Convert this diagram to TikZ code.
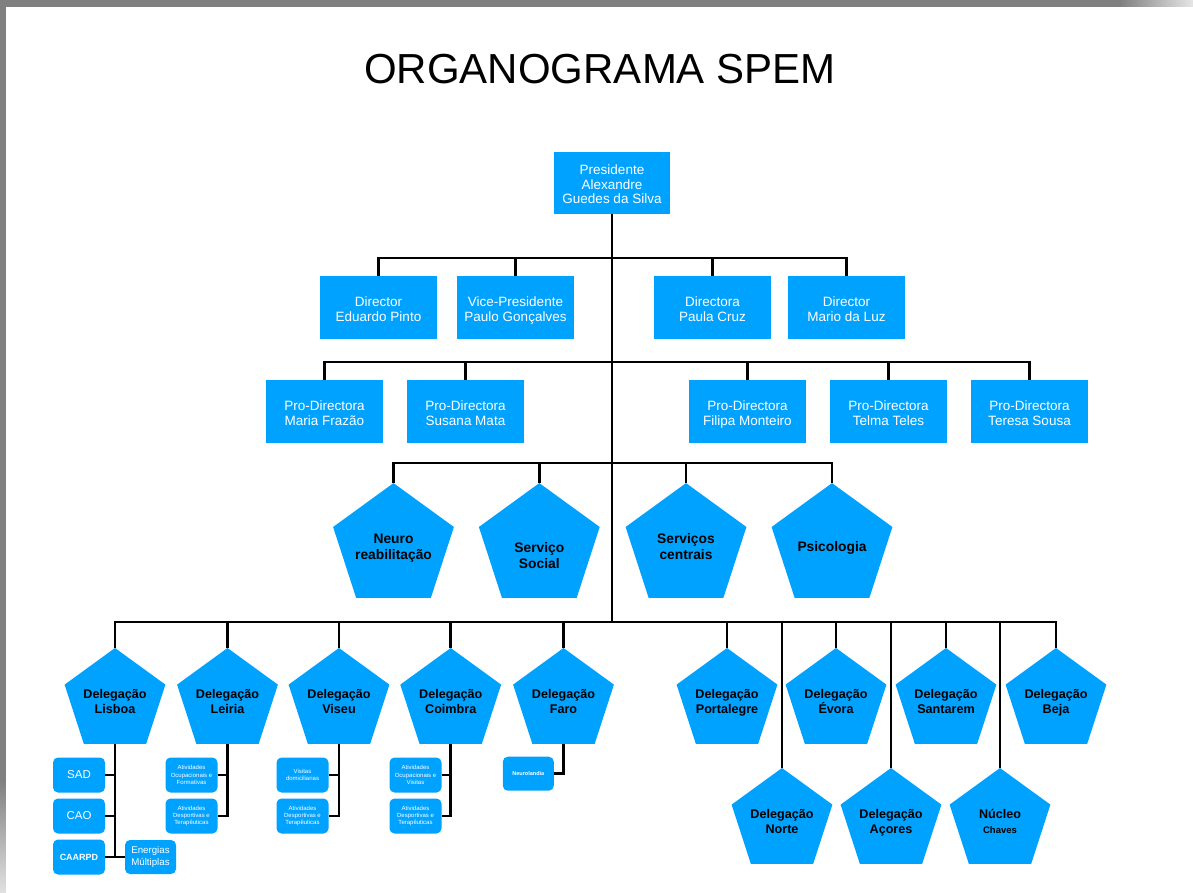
\documentclass[tikz,border=0pt]{standalone}
\usepackage{fontspec}
\setmainfont{Liberation Sans}
\usetikzlibrary{shapes.geometric}
\definecolor{spemblue}{RGB}{0,162,255}
\newcommand{\pl}[1]{\makebox[0pt]{#1}}

\begin{document}
\begin{tikzpicture}
[
    x=1pt, y=-1pt,
    line width=2.6pt,
    every node/.style={inner sep=0pt, outer sep=0pt, align=center},
    box/.style={fill=spemblue, text=white, minimum width=117pt, minimum height=63pt, text height=28.7pt, text depth=0pt, font=\fontsize{13.5}{15}\selectfont},
    pent/.style={regular polygon, regular polygon sides=5, fill=spemblue, minimum size=127pt, text depth=0pt, font=\bfseries\fontsize{13.8}{16.5}\selectfont},
    deleg/.style={pent, minimum size=106pt, font=\bfseries\fontsize{12.6}{15}\selectfont},
    sub/.style={fill=spemblue, text=white, rounded corners=5pt, minimum width=52pt, minimum height=35pt},
    tiny/.style={sub, font=\fontsize{6}{7.3}\selectfont},
]
\useasboundingbox (0,0) rectangle (1193,892);
\fill[black!50] (0,0) rectangle (1120,7);
\shade[left color=black!50, right color=black!10] (1120,0) rectangle (1193,7);
\fill[black!50] (0,0) rectangle (6,780);
\shade[top color=black!50, bottom color=black!12] (0,780) rectangle (6,892);
\fill[white] (6,7) rectangle (1193,892);

\node (title) at (600,69) {\fontsize{42}{50}\selectfont ORGANOGRAMA SPEM};

\node[box, minimum width=116pt, minimum height=62pt, text height=41.3pt, font=\fontsize{13.5}{14.5}\selectfont] (pres) at (612,183) {Presidente\\Alexandre\\Guedes da Silva};

\node[box] (dirEP) at (378.5,307.5) {Director\\Eduardo Pinto};
\node[box] (vpPG) at (515.5,307.5) {Vice-Presidente\\Paulo Gonçalves};
\node[box] (dirPC) at (712.5,307.5) {Directora\\Paula Cruz};
\node[box] (dirML) at (846.5,307.5) {Director\\Mario da Luz};

\node[box] (pdMF) at (324.5,411.5) {Pro-Directora\\Maria Frazão};
\node[box] (pdSM) at (465.5,411.5) {Pro-Directora\\Susana Mata};
\node[box] (pdFM) at (747.5,411.5) {Pro-Directora\\Filipa Monteiro};
\node[box] (pdTT) at (888.5,411.5) {Pro-Directora\\Telma Teles};
\node[box] (pdTS) at (1029.5,411.5) {Pro-Directora\\Teresa Sousa};

\node[pent] (neuro) at (393.5,546.6) {\pl{Neuro}\\\pl{reabilitação}};
\node[pent, text height=44.5pt] (social) at (539.3,546.6) {\pl{Serviço}\\\pl{Social}};
\node[pent] (centrais) at (686,546.6) {\pl{Serviços}\\\pl{centrais}};
\node[pent] (psico) at (832,546.6) {\pl{Psicologia}};

\node[deleg] (lisboa) at (115,701) {\pl{Delegação}\\\pl{Lisboa}};
\node[deleg] (leiria) at (227.5,701) {\pl{Delegação}\\\pl{Leiria}};
\node[deleg] (viseu) at (339,701) {\pl{Delegação}\\\pl{Viseu}};
\node[deleg] (coimbra) at (450.7,701) {\pl{Delegação}\\\pl{Coimbra}};
\node[deleg] (faro) at (563.5,701) {\pl{Delegação}\\\pl{Faro}};
\node[deleg] (portalegre) at (727,701) {\pl{Delegação}\\\pl{Portalegre}};
\node[deleg] (evora) at (836,701) {\pl{Delegação}\\\pl{Évora}};
\node[deleg] (santarem) at (946,701) {\pl{Delegação}\\\pl{Santarem}};
\node[deleg] (beja) at (1056,701) {\pl{Delegação}\\\pl{Beja}};
\node[deleg] (norte) at (782,821) {\pl{Delegação}\\\pl{Norte}};
\node[deleg] (acores) at (891,821) {\pl{Delegação}\\\pl{Açores}};
\node[deleg] (nucleo) at (1000,821) {\pl{Núcleo}\\\pl{\fontsize{9.5}{11}\selectfont Chaves}};

\node[sub, font=\fontsize{11.5}{13}\selectfont] (sad) at (79,775) {SAD};
\node[sub, font=\fontsize{11.5}{13}\selectfont] (cao) at (79,816) {CAO};
\node[sub, font=\bfseries\fontsize{9}{11}\selectfont] (caarpd) at (79,857) {CAARPD};
\node[sub, minimum width=51pt, minimum height=34pt, font=\fontsize{9.7}{11.7}\selectfont] (energ) at (150.5,857) {Energias\\Múltiplas};
\node[tiny] (leiA) at (191.5,775) {Atividades\\Ocupacionais e\\Formativas};
\node[tiny] (leiB) at (191.5,816) {Atividades\\Desportivas e\\Terapêuticas};
\node[tiny] (visA) at (302.5,775) {Visitas\\domiciliarias};
\node[tiny] (visB) at (302.5,816) {Atividades\\Desportivas e\\Terapêuticas};
\node[tiny] (coiA) at (415.5,775) {Atividades\\Ocupacionais e\\Visitas};
\node[tiny] (coiB) at (415.5,816) {Atividades\\Desportivas e\\Terapêuticas};
\node[tiny, minimum width=51pt, minimum height=34pt, font=\bfseries\fontsize{5.5}{7}\selectfont] (faroA) at (528.3,773.7) {Neurolandia};

\coordinate (busA) at (612,258);
\coordinate (busB) at (612,362);
\coordinate (busC) at (612,463);
\coordinate (busD) at (612,622);

\draw (pres.south) -- (busD);
\draw (dirEP.north) |- (busA) -| (dirML.north);
\draw (vpPG.north) -- (vpPG.north |- busA);
\draw (dirPC.north) -- (dirPC.north |- busA);
\draw (pdMF.north) |- (busB) -| (pdTS.north);
\draw (pdSM.north) -- (pdSM.north |- busB);
\draw (pdFM.north) -- (pdFM.north |- busB);
\draw (pdTT.north) -- (pdTT.north |- busB);
\draw (neuro.north) |- (busC) -| (psico.north);
\draw (social.north) -- (social.north |- busC);
\draw (centrais.north) -- (centrais.north |- busC);
\draw (lisboa.north) |- (busD) -| (beja.north);
\foreach \d in {leiria,viseu,coimbra,faro,portalegre,norte,evora,acores,santarem,nucleo}
    \draw (\d.north) -- (\d.north |- busD);

\draw (lisboa.south) -- (lisboa.south |- caarpd.east);
\draw (sad.east) -- (sad.east -| lisboa.south);
\draw (cao.east) -- (cao.east -| lisboa.south);
\draw (caarpd.east) -- (energ.west);
\draw (leiria.south) |- (leiB.east);
\draw (leiA.east) -- (leiA.east -| leiria.south);
\draw (viseu.south) |- (visB.east);
\draw (visA.east) -- (visA.east -| viseu.south);
\draw (coimbra.south) |- (coiB.east);
\draw (coiA.east) -- (coiA.east -| coimbra.south);
\draw (faro.south) |- (faroA.east);
\end{tikzpicture}
\end{document}
